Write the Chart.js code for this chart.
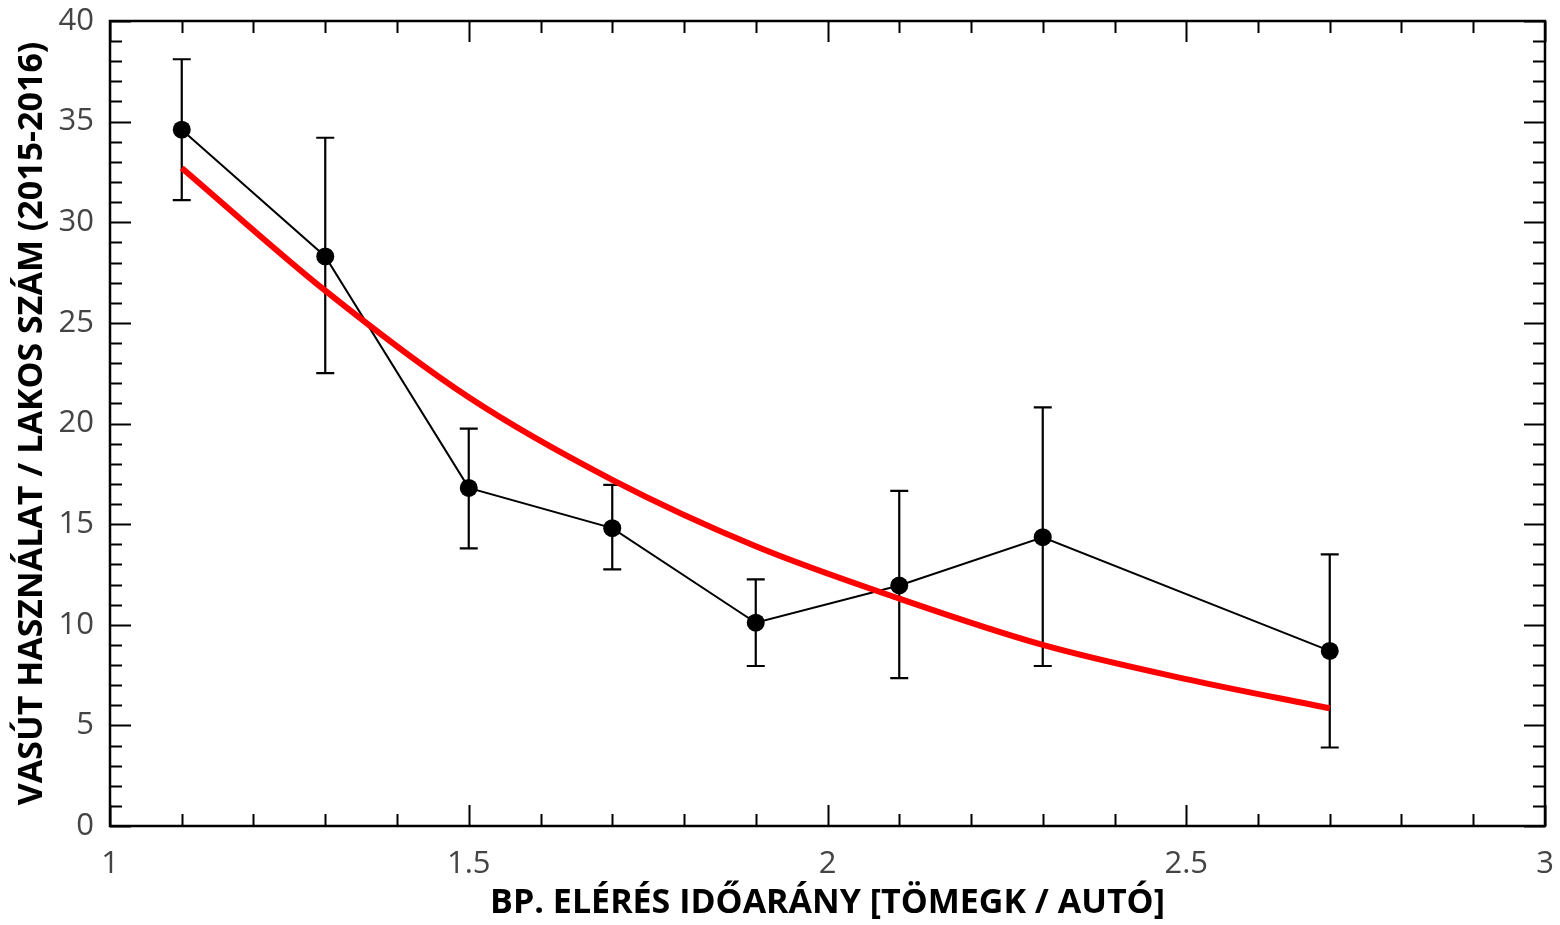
<!DOCTYPE html>
<html>
<head>
<meta charset="utf-8">
<script src="https://cdn.jsdelivr.net/npm/chart.js@4.4.1/dist/chart.umd.min.js"></script>
<style>
  html, body { margin: 0; padding: 0; background: #fff; }
  #wrap { width: 1560px; height: 925px; }
</style>
</head>
<body>
<div id="wrap"><canvas id="lineChart"></canvas></div>
<script>
// measured points (x = travel time ratio, y = rail use per inhabitant)
var xVals = [1.1, 1.3, 1.5, 1.7, 1.9, 2.1, 2.3, 2.7];
var meanVals = [34.6, 28.3, 16.8, 14.8, 10.1, 11.95, 14.35, 8.7];
var errLow = [31.1, 22.5, 13.8, 12.75, 7.95, 7.35, 7.95, 3.9];
var errHigh = [38.1, 34.2, 19.75, 16.95, 12.25, 16.65, 20.8, 13.5];

// red fitted curve
var fitX = [1.1, 1.3, 1.5, 1.7, 1.9, 2.1, 2.3, 2.5, 2.7];
var fitY = [32.7, 26.6, 21.3, 17.2, 13.9, 11.3, 9.0, 7.3, 5.85];

// axis tick labels
var xTickLabels = ["1", "1.5", "2", "2.5", "3"];
var yTickLabels = ["0", "5", "10", "15", "20", "25", "30", "35", "40"];

var xTitle = "BP. ELÉRÉS IDŐARÁNY [TÖMEGK / AUTÓ]";
var yTitle = "VASÚT HASZNÁLAT / LAKOS SZÁM (2015-2016)";

function toPoints(xs, ys) {
    return xs.map(function(v, i) { return {x: v, y: ys[i]}; });
}

// error bars drawn through the chart's own scales
var errorBars = {
    id: 'errorBars',
    beforeDatasetsDraw: function(chart) {
        var ctx = chart.ctx, x = chart.scales.x, y = chart.scales.y;
        ctx.save();
        ctx.strokeStyle = '#000';
        ctx.lineWidth = 2.2;
        xVals.forEach(function(v, i) {
            var px = x.getPixelForValue(v);
            var lo = y.getPixelForValue(errLow[i]);
            var hi = y.getPixelForValue(errHigh[i]);
            ctx.beginPath();
            ctx.moveTo(px, lo); ctx.lineTo(px, hi);
            ctx.moveTo(px - 9, lo); ctx.lineTo(px + 9, lo);
            ctx.moveTo(px - 9, hi); ctx.lineTo(px + 9, hi);
            ctx.stroke();
        });
        ctx.restore();
    }
};

// box frame with inward ticks on all four sides
var frameTicks = {
    id: 'frameTicks',
    afterDatasetsDraw: function(chart) {
        var ctx = chart.ctx, a = chart.chartArea;
        var x = chart.scales.x, y = chart.scales.y;
        ctx.save();
        ctx.strokeStyle = '#000';
        ctx.lineWidth = 2;
        ctx.beginPath();
        for (var i = 0; i <= 20; i++) {
            var px = Math.round(x.getPixelForValue(x.min + i * 0.1)) + 0.5;
            var len = i % 5 === 0 ? 21 : 12;
            ctx.moveTo(px, a.bottom); ctx.lineTo(px, a.bottom - len);
            ctx.moveTo(px, a.top); ctx.lineTo(px, a.top + len);
        }
        for (var j = 0; j <= 40; j++) {
            var py = Math.round(y.getPixelForValue(j)) + 0.5;
            var l2 = j % 5 === 0 ? 21 : 12;
            ctx.moveTo(a.left, py); ctx.lineTo(a.left + l2, py);
            ctx.moveTo(a.right, py); ctx.lineTo(a.right - l2, py);
        }
        ctx.stroke();
        ctx.lineWidth = 2.5;
        ctx.strokeRect(a.left, a.top, a.right - a.left, a.bottom - a.top);
        ctx.restore();
    }
};

var ctx = document.getElementById("lineChart").getContext("2d");

var data = {
    datasets: [{
        label: "Illesztés",
        data: toPoints(fitX, fitY),
        borderColor: "#ff0000",
        borderWidth: 6,
        pointRadius: 0,
        cubicInterpolationMode: 'monotone',
        fill: false
    }, {
        label: "Mért",
        data: toPoints(xVals, meanVals),
        borderColor: "#000",
        borderWidth: 2,
        backgroundColor: "#000",
        pointRadius: 9,
        pointBorderWidth: 0,
        pointBackgroundColor: "#000",
        tension: 0,
        fill: false
    }]
};

var options = {
    responsive: true,
    maintainAspectRatio: false,
    animation: false,
    layout: { padding: { top: 21, right: 15, left: 0, bottom: 0 } },
    plugins: { legend: { display: false }, tooltip: { enabled: false } },
    scales: {
        x: {
            type: 'linear',
            min: 1, max: 3,
            afterFit: function(s) { s.height = 99; s.paddingLeft = 0; s.paddingRight = 0; },
            grid: { display: false, drawTicks: false },
            border: { display: false },
            ticks: {
                stepSize: 0.5,
                padding: 20,
                color: '#444',
                font: { family: "'Open Sans'", size: 31 },
                callback: function(v, i) { return xTickLabels[i]; }
            },
            title: {
                display: true,
                text: xTitle,
                color: '#000',
                padding: { top: 0, bottom: 1 },
                font: { family: "'Open Sans'", size: 34, weight: 'bold' }
            }
        },
        y: {
            min: 0, max: 40,
            afterFit: function(s) { s.width = 110; s.paddingTop = 0; s.paddingBottom = 0; },
            grid: { display: false, drawTicks: false },
            border: { display: false },
            ticks: {
                stepSize: 5,
                padding: 16,
                color: '#444',
                font: { family: "'Open Sans'", size: 31 },
                callback: function(v, i) { return yTickLabels[i]; }
            },
            title: {
                display: true,
                text: yTitle,
                color: '#000',
                padding: { top: 12, bottom: 0 },
                font: { family: "'Open Sans'", size: 34, weight: 'bold' }
            }
        }
    }
};

var myChart = new Chart(ctx, {
    type: 'line',
    data: data,
    options: options,
    plugins: [errorBars, frameTicks]
});
</script>
</body>
</html>
